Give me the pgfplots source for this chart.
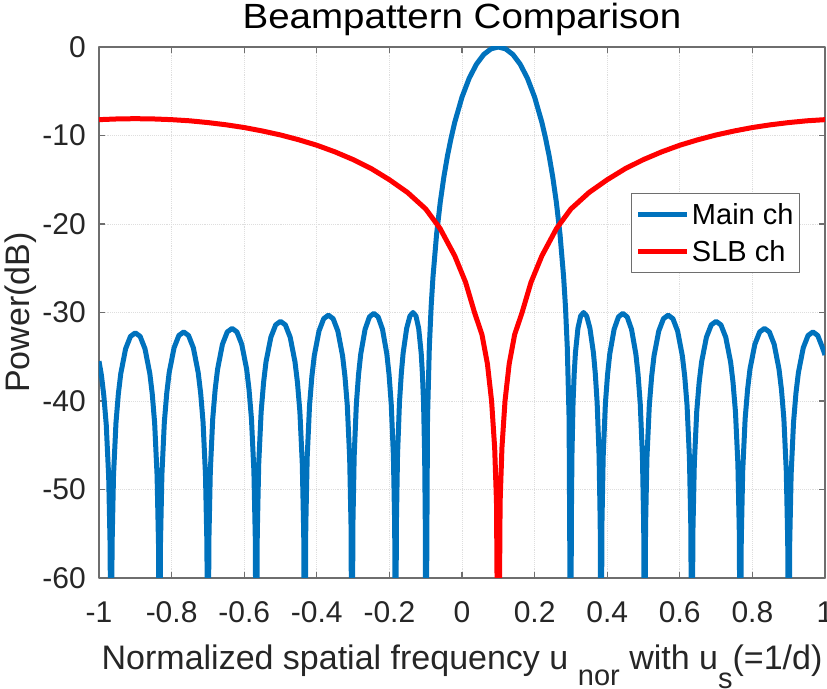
\documentclass[border=0pt]{standalone}
\usepackage{fontspec}
\setmainfont{Liberation Sans}
\usepackage{pgfplots}
\pgfplotsset{compat=1.18}
\definecolor{mblue}{RGB}{0,114,189}
\definecolor{axgray}{RGB}{110,110,110}
\definecolor{gridgray}{RGB}{222,222,222}
\begin{document}
\begin{tikzpicture}
\useasboundingbox (0,0) rectangle (827pt,688pt);
\begin{axis}[
  at={(99pt,110pt)}, anchor=south west,
  scale only axis, width=726pt, height=531pt,
  xmin=-1, xmax=1, ymin=-60, ymax=0,
  xtick={-1,-0.8,-0.6,-0.4,-0.2,0,0.2,0.4,0.6,0.8,1},
  xticklabels={-1,-0.8,-0.6,-0.4,-0.2,0,0.2,0.4,0.6,0.8,1},
  ytick={-60,-50,-40,-30,-20,-10,0},
  yticklabels={-60,-50,-40,-30,-20,-10,0},
  tick align=inside, major tick length=6pt,
  tick style={axgray, line width=1.1pt},
  axis line style={axgray, line width=1.1pt},
  grid=major,
  grid style={gridgray, line width=0.9pt, densely dotted},
  ticklabel style={font=\fontsize{30}{36}\selectfont, text=black!85},
  xticklabel style={inner sep=0pt, anchor=north, yshift=-23.7pt},
  yticklabel style={inner sep=0pt, anchor=east, xshift=-13pt},
  title={\scalebox{1.1}[1]{Beampattern Comparison}},
  title style={font=\fontsize{35}{42}\selectfont, at={(axis description cs:0.5,1)}, anchor=base, yshift=12.5pt, inner sep=0pt},
  xlabel={Normalized spatial frequency u \raisebox{-16pt}{\fontsize{29}{34}\selectfont nor} with u\raisebox{-19pt}{\fontsize{29}{34}\selectfont s}(=1/d)},
  xlabel style={font=\fontsize{34}{40}\selectfont, at={(axis description cs:0.5,0)}, anchor=base, yshift=-92pt, inner sep=0pt, text=black!85},
  ylabel={Power(dB)},
  ylabel style={font=\fontsize{34}{40}\selectfont, at={(axis description cs:-0.108,0.5)}, anchor=center, rotate=0, inner sep=0pt, text=black!85},
  legend style={at={(rel axis cs:0.9656,0.725)}, anchor=north east, draw=axgray, line width=1pt,
    font=\fontsize{29}{34}\selectfont, inner xsep=4pt, inner ysep=8pt, row sep=10pt,
    nodes={inner sep=2pt}},
  legend cell align=left,
  legend image code/.code={\draw[#1, line width=5pt] (0pt,0pt) -- (49pt,0pt);},
  line join=round,
]
\addplot[mblue, line width=5pt] coordinates {
(-1.0,-35.5)(-0.9933,-37.1)(-0.9867,-39.4)(-0.98,-42.7)(-0.9733,-48.6)(-0.9693,-56.5)(-0.9667,-80)
(-0.964,-56.3)(-0.96,-48.4)(-0.9533,-42.5)(-0.9467,-39.2)(-0.94,-36.9)(-0.9267,-34.1)(-0.9133,-32.7)(-0.9,-32.3)(-0.8867,-32.7)(-0.8733,-34.1)(-0.86,-36.9)(-0.8533,-39.2)(-0.8467,-42.5)(-0.84,-48.4)(-0.836,-56.3)(-0.8333,-80)
(-0.8307,-56.2)(-0.8267,-48.3)(-0.82,-42.4)(-0.8133,-39.1)(-0.8067,-36.8)(-0.7933,-34.0)(-0.78,-32.6)(-0.7667,-32.2)(-0.7533,-32.6)(-0.74,-34.0)(-0.7267,-36.8)(-0.72,-39.1)(-0.7133,-42.4)(-0.7067,-48.3)(-0.7027,-56.2)(-0.7,-80)
(-0.6973,-55.8)(-0.6933,-47.9)(-0.6867,-42.0)(-0.68,-38.7)(-0.6733,-36.4)(-0.66,-33.6)(-0.6467,-32.2)(-0.6333,-31.8)(-0.62,-32.2)(-0.6067,-33.6)(-0.5933,-36.4)(-0.5867,-38.7)(-0.58,-42.0)(-0.5733,-47.9)(-0.5693,-55.8)(-0.5667,-80)
(-0.564,-55.0)(-0.56,-47.1)(-0.5533,-41.2)(-0.5466,-37.9)(-0.54,-35.6)(-0.5266,-32.8)(-0.5133,-31.4)(-0.5,-31.0)(-0.4866,-31.4)(-0.4733,-32.8)(-0.46,-35.6)(-0.4533,-37.9)(-0.4466,-41.2)(-0.44,-47.1)(-0.436,-55.0)(-0.4333,-80)
(-0.4304,-54.3)(-0.4265,-46.4)(-0.42,-40.5)(-0.4135,-37.2)(-0.407,-34.9)(-0.394,-32.1)(-0.381,-30.7)(-0.368,-30.3)(-0.355,-30.7)(-0.342,-32.1)(-0.329,-34.9)(-0.3225,-37.2)(-0.316,-40.5)(-0.3095,-46.4)(-0.3056,-54.3)(-0.303,-80)
(-0.3006,-54.1)(-0.297,-46.2)(-0.291,-40.3)(-0.285,-37.0)(-0.279,-34.7)(-0.267,-31.9)(-0.255,-30.5)(-0.243,-30.1)(-0.231,-30.5)(-0.219,-31.9)(-0.207,-34.7)(-0.201,-37.0)(-0.195,-40.3)(-0.189,-46.2)(-0.1854,-54.1)(-0.183,-80)
(-0.1808,-54.0)(-0.1776,-46.1)(-0.1723,-40.2)(-0.1672,-36.9)(-0.1622,-34.6)(-0.1525,-31.8)(-0.1434,-30.4)(-0.1349,-30.0)(-0.1268,-30.4)(-0.1193,-31.8)(-0.1124,-34.6)(-0.1091,-36.9)(-0.1059,-40.2)(-0.1029,-46.1)(-0.1011,-54.0)(-0.1,-80)
(-0.095,-41.95)(-0.09,-33.91)(-0.085,-29.33)(-0.08,-26.01)(-0.07,-21.16)(-0.06,-17.57)(-0.05,-14.69)(-0.04,-12.29)(-0.03,-10.28)(-0.02,-8.51)(0.0,-5.66)(0.02,-3.51)(0.04,-1.93)(0.06,-0.84)(0.08,-0.21)(0.1,0)
(0.12,-0.21)(0.14,-0.84)(0.16,-1.93)(0.18,-3.51)(0.2,-5.66)(0.22,-8.51)(0.23,-10.28)(0.24,-12.29)(0.25,-14.69)(0.26,-17.57)(0.27,-21.16)(0.28,-26.01)(0.285,-29.33)(0.29,-33.91)(0.295,-41.95)(0.3,-80)
(0.3011,-54.0)(0.3029,-46.1)(0.3059,-40.2)(0.3091,-36.9)(0.3124,-34.6)(0.3193,-31.8)(0.3268,-30.4)(0.3349,-30.0)(0.3434,-30.4)(0.3525,-31.8)(0.3622,-34.6)(0.3672,-36.9)(0.3723,-40.2)(0.3776,-46.1)(0.3808,-54.0)(0.383,-80)
(0.3854,-54.1)(0.389,-46.2)(0.395,-40.3)(0.401,-37.0)(0.407,-34.7)(0.419,-31.9)(0.431,-30.5)(0.443,-30.1)(0.455,-30.5)(0.467,-31.9)(0.479,-34.7)(0.485,-37.0)(0.491,-40.3)(0.497,-46.2)(0.5006,-54.1)(0.503,-80)
(0.5056,-54.3)(0.5095,-46.4)(0.516,-40.5)(0.5225,-37.2)(0.529,-34.9)(0.542,-32.1)(0.555,-30.7)(0.568,-30.3)(0.581,-30.7)(0.594,-32.1)(0.607,-34.9)(0.6135,-37.2)(0.62,-40.5)(0.6265,-46.4)(0.6304,-54.3)(0.6333,-80)
(0.636,-55.0)(0.64,-47.1)(0.6466,-41.2)(0.6533,-37.9)(0.66,-35.6)(0.6733,-32.8)(0.6866,-31.4)(0.7,-31.0)(0.7133,-31.4)(0.7266,-32.8)(0.74,-35.6)(0.7466,-37.9)(0.7533,-41.2)(0.76,-47.1)(0.764,-55.0)(0.7667,-80)
(0.7693,-55.8)(0.7733,-47.9)(0.78,-42.0)(0.7867,-38.7)(0.7933,-36.4)(0.8067,-33.6)(0.82,-32.2)(0.8333,-31.8)(0.8467,-32.2)(0.86,-33.6)(0.8733,-36.4)(0.88,-38.7)(0.8867,-42.0)(0.8933,-47.9)(0.8973,-55.8)(0.9,-80)
(0.9027,-56.2)(0.9067,-48.3)(0.9133,-42.4)(0.92,-39.1)(0.9267,-36.8)(0.94,-34.0)(0.9533,-32.6)(0.9667,-32.2)(0.98,-32.6)(0.9933,-34.0)(1.0,-34.8)
};
\addlegendentry{Main ch}
\addplot[red, line width=5pt] coordinates {
(-1.0,-8.21)(-0.95,-8.13)(-0.9,-8.10)(-0.85,-8.13)(-0.8,-8.21)(-0.75,-8.34)(-0.7,-8.54)(-0.65,-8.79)(-0.6,-9.10)(-0.55,-9.49)(-0.5,-9.94)(-0.45,-10.48)(-0.4,-11.1)(-0.35,-11.85)(-0.3,-12.72)(-0.25,-13.74)(-0.2,-15.0)(-0.15,-16.44)(-0.1,-18.3)(-0.0605,-20.5)(-0.02,-23.6)(0.01,-26.6)(0.0345,-30.0)(0.055,-32.5)(0.07,-35.8)(0.0815,-40.0)(0.09,-45.3)(0.095,-51.4)(0.1,-80)
(0.105,-51.4)(0.11,-45.3)(0.1185,-40)(0.13,-35.8)(0.145,-32.5)(0.1655,-30)(0.19,-26.6)(0.22,-23.6)(0.2605,-20.5)(0.3,-18.3)(0.35,-16.44)(0.4,-15.0)(0.45,-13.74)(0.5,-12.72)(0.55,-11.85)(0.6,-11.1)(0.65,-10.48)(0.7,-9.94)(0.75,-9.49)(0.8,-9.10)(0.85,-8.79)(0.9,-8.54)(0.95,-8.34)(1.0,-8.21)
};
\addlegendentry{SLB ch}
\end{axis}
\end{tikzpicture}
\end{document}
